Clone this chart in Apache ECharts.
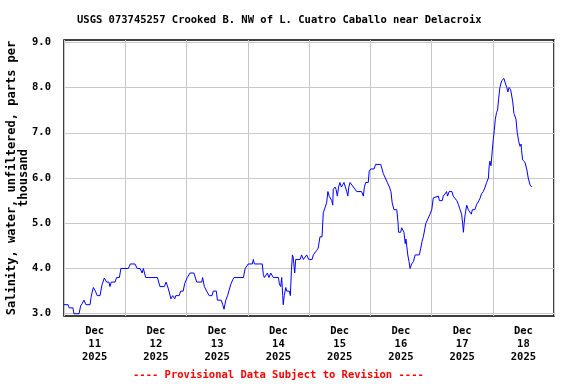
<!DOCTYPE html>
<html>
<head>
<meta charset="utf-8">
<script src="https://cdn.jsdelivr.net/npm/echarts@6/dist/echarts.min.js"></script>
<style>
html,body{margin:0;padding:0;background:#fff;}
#c{width:576px;height:384px;}
</style>
</head>
<body>
<div id="c"></div>
<script>
// Hours since Dec 11 2025 00:00
const hours = [0,1.6,2.0,3.5,3.9,5.9,6.5,7.1,7.8,8.6,10.2,10.6,11.0,11.5,12.3,13.0,14.1,14.9,15.8,16.7,17.6,18.0,18.5,20.0,20.6,21.7,22.3,25.2,26.0,27.8,28.7,29.8,30.6,31.1,32.0,36.6,37.6,39.3,40.0,40.9,41.9,42.6,43.4,43.8,45.1,45.7,46.7,47.3,48.3,49.4,50.9,52.0,54.0,54.3,55.0,55.9,56.9,58.0,58.5,59.7,60.1,61.6,62.2,62.7,63.4,64.1,64.8,65.3,66.1,66.6,70.3,71.0,72.2,73.8,74.2,74.6,77.7,78.1,78.5,79.2,79.7,80.3,81.0,81.5,82.0,84.0,84.4,84.9,85.3,85.7,85.9,86.3,86.9,87.3,88.3,88.7,89.1,89.5,89.8,90.4,90.8,92.5,93.1,93.8,94.4,95.1,95.9,97.2,97.7,98.3,99.0,99.6,100.3,101.1,101.6,102.3,102.9,103.4,103.9,104.5,104.9,105.3,105.5,106.2,106.6,107.1,107.6,108.1,108.7,109.2,109.7,110.4,110.8,111.2,111.6,112.1,112.7,113.4,114.0,114.7,116.6,117.3,117.7,118.2,119.2,119.6,120.2,121.5,122.1,124.1,124.6,125.1,125.9,126.7,127.5,128.1,128.6,129.3,130.4,130.9,131.1,131.9,132.3,132.8,133.2,133.7,134.0,134.3,134.7,135.2,135.6,136.2,136.9,137.6,139.2,139.8,140.3,140.8,141.3,141.8,142.6,143.4,144.1,144.7,145.4,146.7,147.1,148.2,148.6,149.3,149.9,150.3,150.9,152.0,152.5,153.2,153.9,154.5,155.2,155.8,156.2,156.5,156.8,157.2,157.8,158.4,159.1,159.6,160.0,161.0,161.7,162.3,163.0,163.6,164.3,165.0,165.6,166.3,166.6,166.9,167.3,167.8,168.2,168.6,169.0,169.5,169.9,170.3,170.8,171.5,172.4,172.9,173.5,173.9,174.4,175.0,175.8,176.3,177.1,177.6,178.2,178.7,179.1,179.3,179.7,180.6,181.3,181.9,182.6,183.3];
const salinity = [3.2,3.2,3.13,3.13,3.0,3.0,3.17,3.22,3.3,3.2,3.2,3.36,3.47,3.58,3.5,3.4,3.4,3.64,3.79,3.7,3.7,3.6,3.7,3.7,3.8,3.8,4.0,4.0,4.1,4.1,4.0,4.0,3.9,4.0,3.8,3.8,3.6,3.6,3.7,3.55,3.33,3.4,3.33,3.4,3.4,3.5,3.5,3.67,3.8,3.9,3.9,3.7,3.7,3.8,3.6,3.5,3.4,3.4,3.5,3.5,3.3,3.3,3.2,3.1,3.3,3.4,3.4,3.64,3.75,3.8,3.8,4.0,4.1,4.1,4.2,4.1,4.1,3.87,3.8,3.8,3.9,3.8,3.9,3.9,3.8,3.8,3.66,3.6,3.8,3.4,3.2,3.4,3.58,3.5,3.5,3.4,3.95,4.3,4.25,3.9,4.2,4.2,4.3,4.2,4.2,4.3,4.2,4.2,4.3,4.3,4.4,4.45,4.7,4.7,5.23,5.35,5.45,5.7,5.6,5.6,5.5,5.4,5.75,5.8,5.75,5.6,5.8,5.9,5.8,5.85,5.9,5.9,5.7,5.6,5.8,5.9,5.9,5.8,5.8,5.7,5.7,5.6,5.8,5.9,5.9,6.15,6.2,6.2,6.3,6.3,6.2,6.1,6.0,5.9,5.8,5.7,5.45,5.3,5.3,5.0,4.8,4.8,4.9,4.9,4.8,4.55,4.65,4.5,4.3,4.15,4.0,4.1,4.15,4.3,4.3,4.45,4.6,4.7,4.85,5.0,5.1,5.2,5.3,5.56,5.6,5.6,5.5,5.5,5.6,5.65,5.7,5.6,5.7,5.7,5.6,5.58,5.5,5.42,5.3,5.2,5.0,4.8,5.0,5.2,5.4,5.3,5.28,5.2,5.3,5.3,5.42,5.47,5.55,5.65,5.7,5.8,5.9,6.0,6.27,6.37,6.27,6.6,6.85,7.05,7.3,7.45,7.5,7.75,8.0,8.15,8.2,8.1,8.0,7.9,8.0,7.95,7.7,7.43,7.3,7.0,6.8,6.7,6.75,6.6,6.4,6.35,6.2,6.0,5.85,5.8];

const dayTicks = [0,24,48,72,96,120,144,168,192];
const dayLabelPos = [12,36,60,84,108,132,156,180];
const dayLabels = ['11','12','13','14','15','16','17','18'];
const monthLabel = 'Dec';
const yearLabel = '2025';
const yTicks = [3,4,5,6,7,8,9];

const titleText = 'USGS 073745257 Crooked B. NW of L. Cuatro Caballo near Delacroix';
const noteText = '---- Provisional Data Subject to Revision ----';
const yName = 'Salinity, water, unfiltered, parts per\nthousand';

const FONT = 'DejaVu Sans Mono';
const chart = echarts.init(document.getElementById('c'), null, {renderer: 'canvas'});
const data = hours.map((h, i) => [h, salinity[i]]);

chart.setOption({
  animation: false,
  backgroundColor: '#fff',
  title: [
    {text: titleText, left: 77, top: 15, padding: 0,
     textStyle: {fontFamily: FONT, fontSize: 10.5, fontWeight: 'bold', color: '#000'}},
    {text: noteText, left: 133, top: 370, padding: 0,
     textStyle: {fontFamily: FONT, fontSize: 10.5, fontWeight: 'bold', color: '#ff0000'}}
  ],
  grid: {left: 64, right: 22, top: 40, bottom: 68, show: true, borderColor: '#000', borderWidth: 1.5,
         backgroundColor: 'transparent', outerBoundsMode: 'none', containLabel: false},
  xAxis: {
    type: 'value', min: 0, max: 192,
    axisLine: {show: false},
    axisTick: {show: false, customValues: dayTicks},
    splitLine: {show: true, lineStyle: {color: '#c8c8c8', width: 1}},
    axisLabel: {
      customValues: dayLabelPos,
      fontFamily: FONT, fontSize: 10.5, fontWeight: 'bold', color: '#000',
      lineHeight: 13, margin: 9,
      formatter: v => monthLabel + '\n' + dayLabels[Math.floor(v / 24)] + '\n' + yearLabel
    }
  },
  yAxis: {
    type: 'value', min: 2.95, max: 9.05,
    axisLine: {show: false},
    axisTick: {show: false, customValues: yTicks},
    splitLine: {show: true, lineStyle: {color: '#c8c8c8', width: 1}},
    axisLabel: {
      customValues: yTicks,
      fontFamily: FONT, fontSize: 10.5, fontWeight: 'bold', color: '#000', margin: 13,
      formatter: v => v.toFixed(1)
    },
    name: yName, nameLocation: 'middle', nameRotate: 90, nameGap: 34, nameMoveOverlap: false,
    nameTextStyle: {fontFamily: FONT, fontSize: 12, fontWeight: 'bold', color: '#000', lineHeight: 12, align: 'center'}
  },
  series: [{
    type: 'line', data: data, showSymbol: false, symbol: 'none',
    lineStyle: {color: '#0000ff', width: 1}, z: 3
  }]
});
</script>
</body>
</html>
